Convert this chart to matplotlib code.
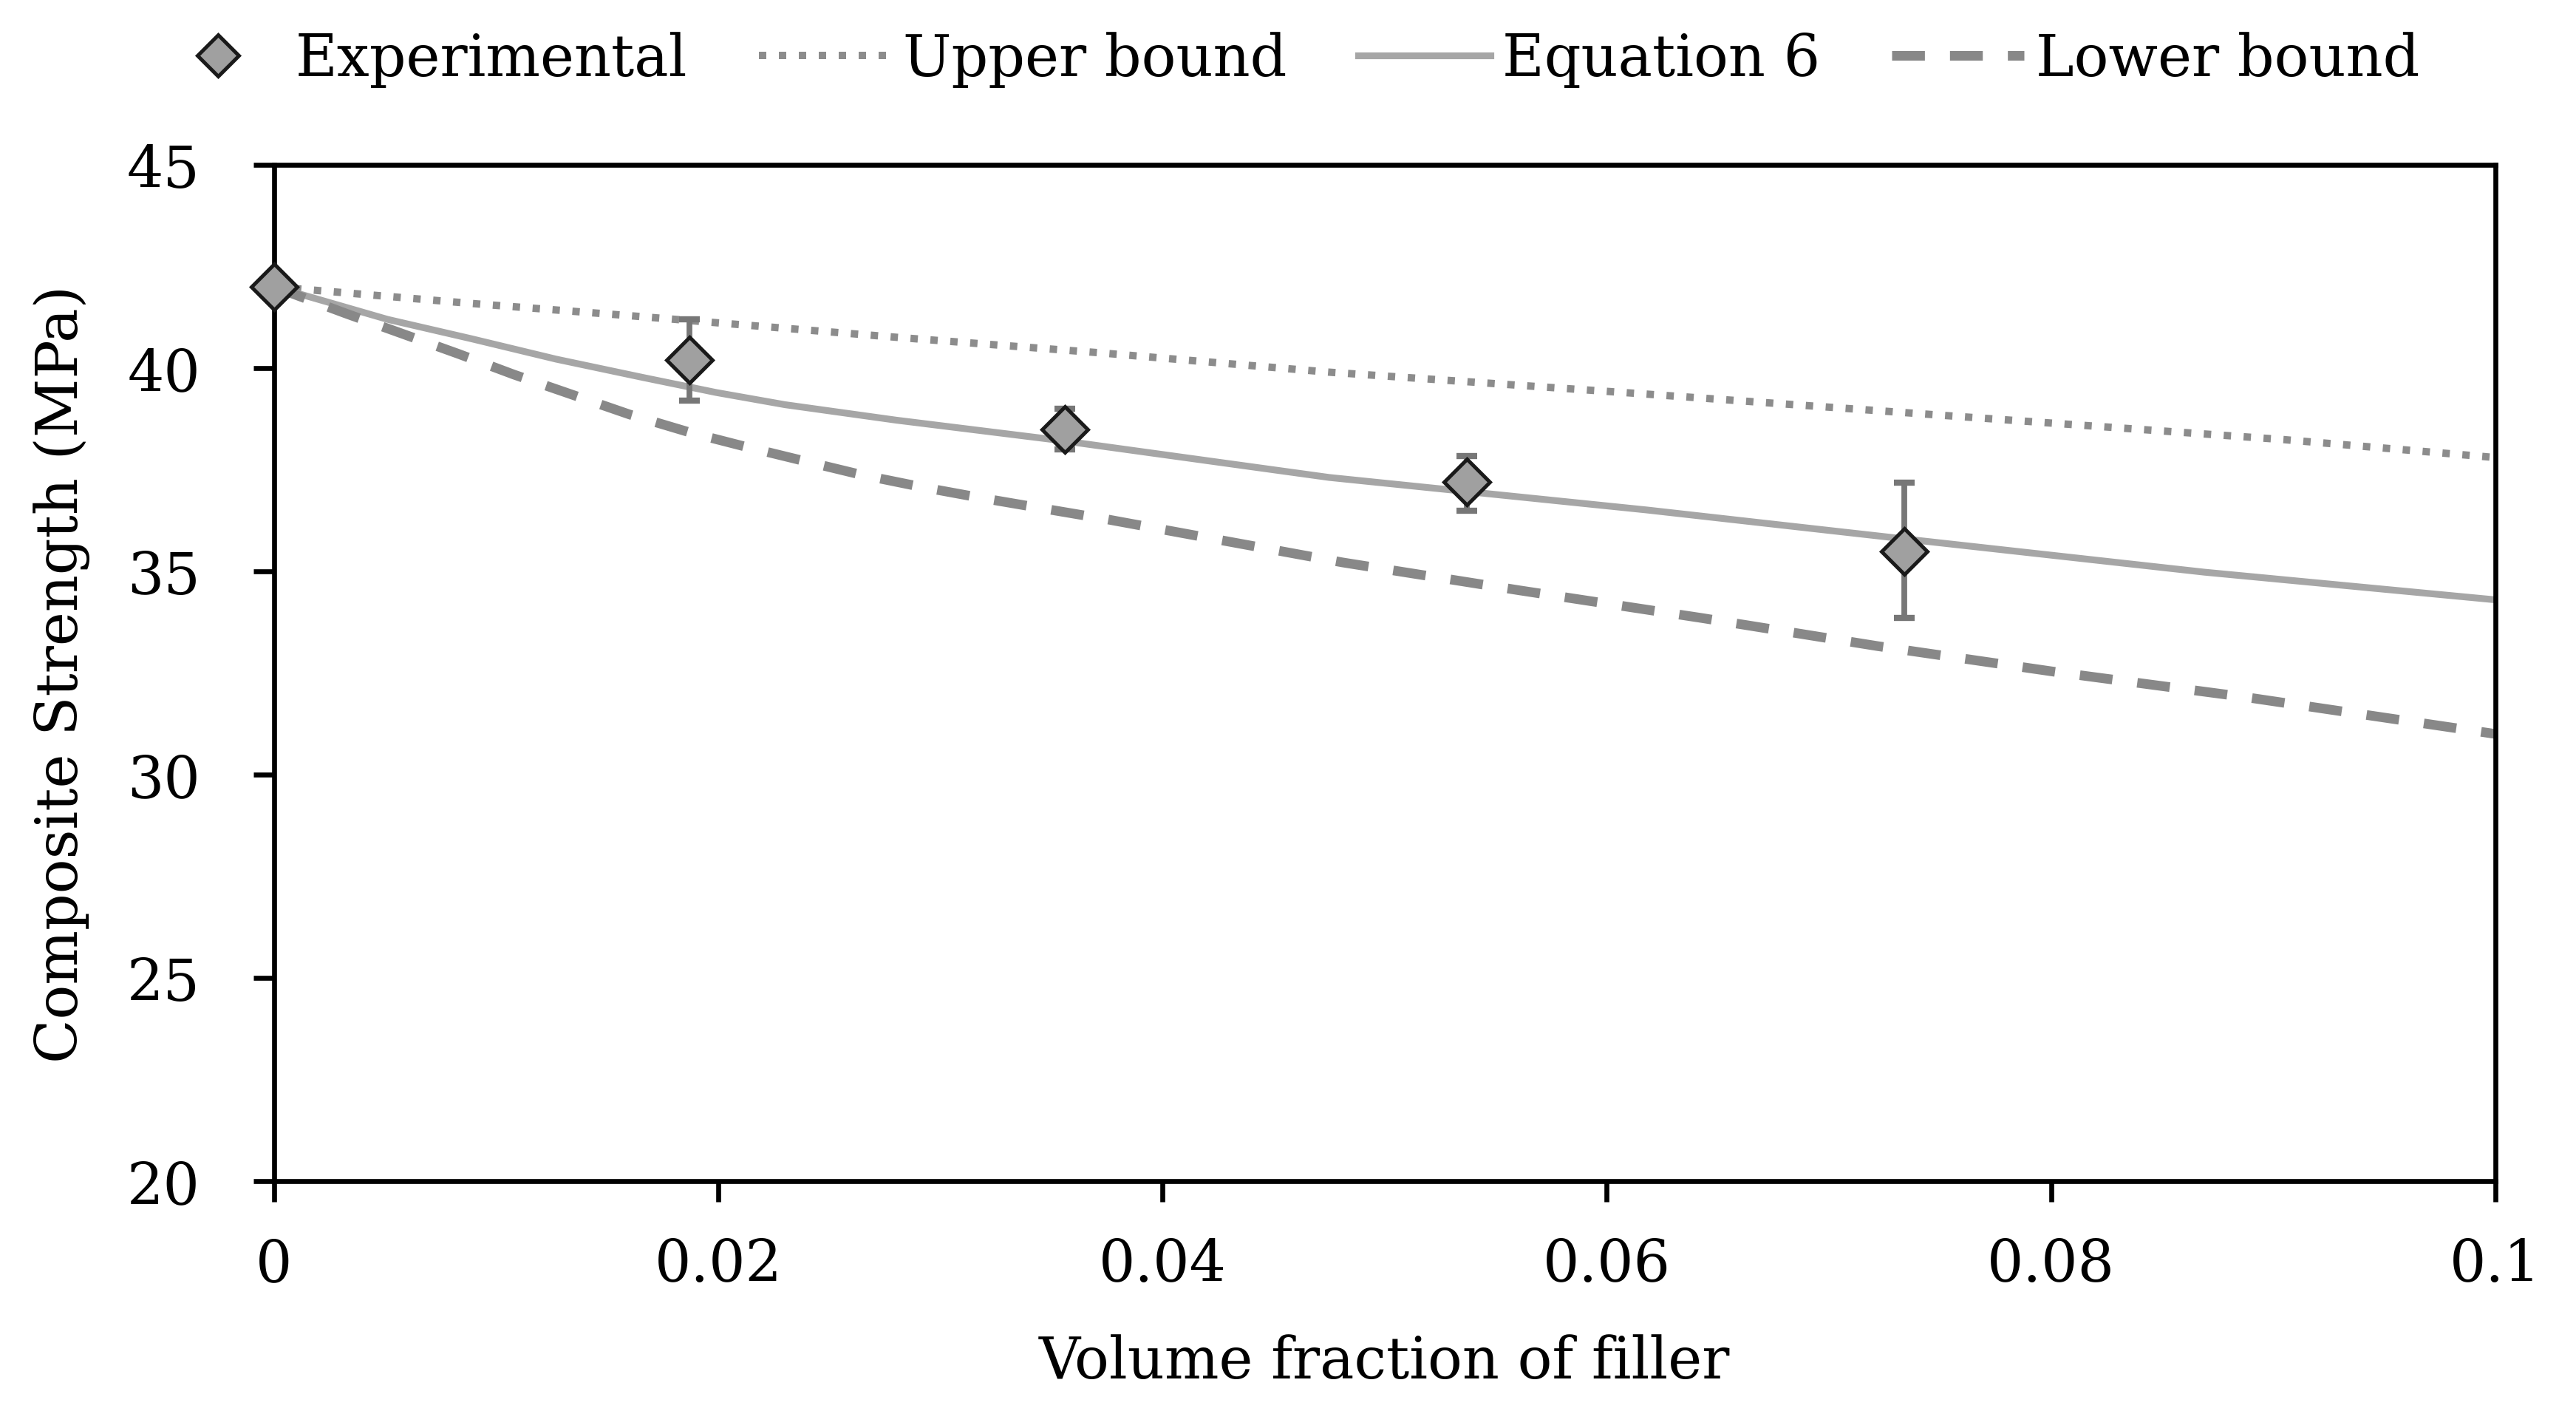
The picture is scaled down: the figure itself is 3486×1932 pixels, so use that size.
import matplotlib
matplotlib.use("Agg")
import matplotlib.pyplot as plt
from matplotlib.lines import Line2D

# Experimental data
exp_x = [0.0, 0.0187, 0.0356, 0.0537, 0.0734]
exp_y = [42.0, 40.2, 38.5, 37.2, 35.5]
exp_err_hi = [0.0, 1.0, 0.5, 0.63, 1.68]
exp_err_lo = [0.0, 1.0, 0.5, 0.70, 1.64]

# Upper bound
ub_x = [0.0, 0.0089, 0.016, 0.0282, 0.0371, 0.0475, 0.0618, 0.0761, 0.0905, 0.1]
ub_y = [42.0, 41.59, 41.29, 40.75, 40.38, 39.90, 39.36, 38.80, 38.24, 37.8]

# Equation 6
eq_x = [0.0, 0.0013, 0.0051, 0.0089, 0.0127, 0.0166, 0.0199, 0.023, 0.028, 0.0354,
        0.0475, 0.0618, 0.0737, 0.0869, 0.1]
eq_y = [42.0, 41.8, 41.2, 40.72, 40.22, 39.77, 39.40, 39.10, 38.72, 38.22,
        37.31, 36.51, 35.78, 34.98, 34.3]

# Lower bound
lb_x = [0.0, 0.0032, 0.0057, 0.0083, 0.0108, 0.0134, 0.016, 0.0187, 0.0212, 0.0239,
        0.0264, 0.0292, 0.0319, 0.0348, 0.0374, 0.0481, 0.0561, 0.0643, 0.0722,
        0.0804, 0.0887, 0.1]
lb_y = [42.0, 41.35, 40.86, 40.35, 39.84, 39.35, 38.86, 38.42, 38.07, 37.71,
        37.38, 37.07, 36.80, 36.53, 36.29, 35.22, 34.53, 33.85, 33.16,
        32.51, 31.91, 31.0]

x_ticks = [0, 0.02, 0.04, 0.06, 0.08, 0.1]
x_ticklabels = ["0", "0.02", "0.04", "0.06", "0.08", "0.1"]
y_ticks = [20, 25, 30, 35, 40, 45]

plt.rcParams['font.family'] = ['DejaVu Serif']
FS = 28

fig = plt.figure(figsize=(3486/200, 1933/200), dpi=200)
ax = fig.add_axes([0.1064, 0.1728, 0.9687-0.1064, 0.8841-0.1728])

l_ub, = ax.plot(ub_x, ub_y, color='#8c8c8c', lw=3.6, linestyle=(0, (1, 1.7)),
                dash_capstyle='butt', label='Upper bound', zorder=2)
l_eq, = ax.plot(eq_x, eq_y, color='#a6a6a6', lw=3.3, linestyle='-',
                label='Equation 6', zorder=2)
l_lb, = ax.plot(lb_x, lb_y, color='#888888', lw=4.7, linestyle=(0, (3.4, 2.6)),
                dash_capstyle='butt', label='Lower bound', zorder=2)

ax.errorbar(exp_x, exp_y, yerr=[exp_err_lo, exp_err_hi], fmt='none',
            ecolor='#777777', elinewidth=2.8, capsize=5, capthick=3.0,
            zorder=3, clip_on=False)
l_exp, = ax.plot(exp_x, exp_y, linestyle='none', marker='D', markersize=16,
                 markerfacecolor='#a0a0a0', markeredgecolor='#1a1a1a',
                 markeredgewidth=1.8, label='Experimental', zorder=4, clip_on=False)

ax.set_xlim(0, 0.1)
ax.set_ylim(20, 45)
ax.set_xticks(x_ticks)
ax.set_xticklabels(x_ticklabels)
ax.set_yticks(y_ticks)

for s in ax.spines.values():
    s.set_linewidth(2.4)
    s.set_color('black')

ax.tick_params(axis='both', which='both', direction='out', length=10, width=2.4,
               labelsize=FS, colors='black', top=False, right=False)
ax.tick_params(axis='x', pad=17)
ax.tick_params(axis='y', pad=26)

ax.set_xlabel('Volume fraction of filler', fontsize=FS, labelpad=20)
ax.set_ylabel('Composite Strength (MPa)', fontsize=FS, labelpad=18)

leg_exp = Line2D([], [], linestyle='none', marker='D', markersize=14.5,
                 markerfacecolor='#a0a0a0', markeredgecolor='#1a1a1a',
                 markeredgewidth=1.8)
fig.legend(handles=[leg_exp, l_ub, l_eq, l_lb],
           labels=['Experimental', 'Upper bound', 'Equation 6', 'Lower bound'],
           loc='center', bbox_to_anchor=(0.499, 0.958), ncol=4, frameon=False,
           fontsize=FS, handlelength=2.3, handletextpad=0.2, columnspacing=1.25)

fig.savefig('out.png', dpi=200, facecolor='white')
